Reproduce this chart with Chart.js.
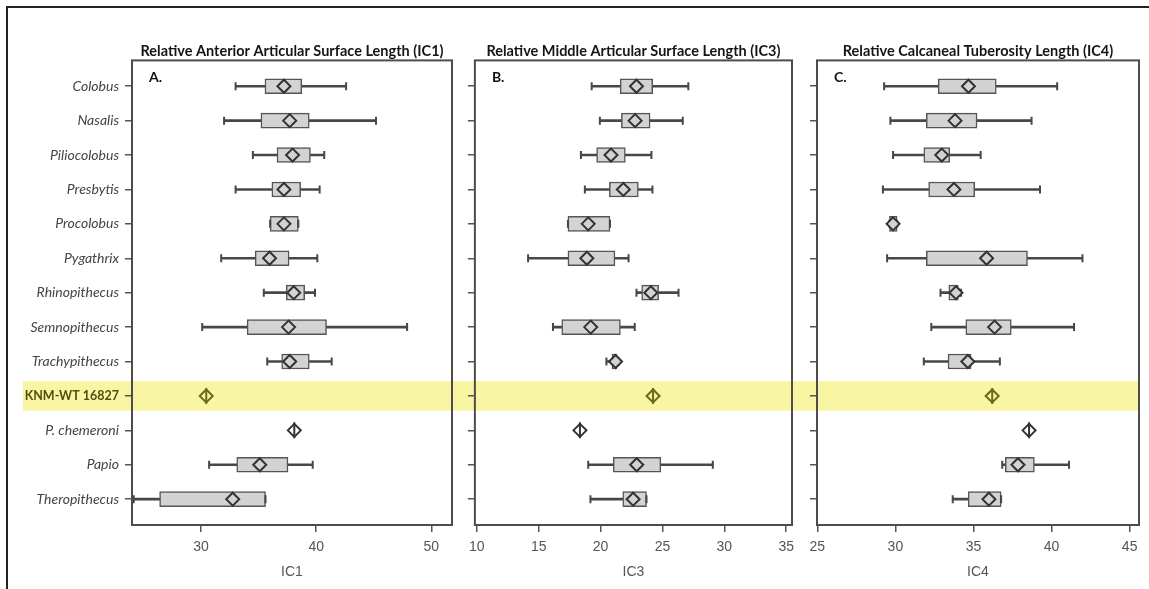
<!DOCTYPE html>
<html>
<head>
<meta charset="utf-8">
<script src="https://cdn.jsdelivr.net/npm/chart.js@4.4.1/dist/chart.umd.min.js"></script>
<style>
  body { margin: 0; background: #fff; }
  #frame { position: absolute; left: 6px; top: 6px; width: 1143px; height: 583px;
           border-left: 2px solid #222; border-top: 2px solid #222; }
  canvas { position: absolute; top: 0; }
</style>
</head>
<body>
<div id="frame"></div>
<canvas id="panelA" width="454" height="589" style="left:8px"></canvas>
<canvas id="panelB" width="340" height="589" style="left:462px"></canvas>
<canvas id="panelC" width="347" height="589" style="left:802px"></canvas>

<script>
// taxa, top to bottom
const species = ['Colobus', 'Nasalis', 'Piliocolobus', 'Presbytis', 'Procolobus', 'Pygathrix',
  'Rhinopithecus', 'Semnopithecus', 'Trachypithecus', 'KNM-WT 16827', 'P. chemeroni', 'Papio', 'Theropithecus'];
const highlightRow = species.indexOf('KNM-WT 16827');

// IC1 - anterior articular surface
const ic1Min  = [33.0, 32.0, 34.5, 33.0, 36.0, 31.75, 35.45, 30.1, 35.75, null, null, 30.7, 24.15];
const ic1Q1   = [35.55, 35.2, 36.6, 36.15, 36.0, 34.7, 37.4, 34.0, 37.0, null, null, 33.1, 26.4];
const ic1Q3   = [38.75, 39.4, 39.5, 38.65, 38.45, 37.65, 39.0, 40.9, 39.4, null, null, 37.55, 35.6];
const ic1Max  = [42.6, 45.2, 40.7, 40.3, 38.45, 40.1, 39.9, 47.9, 41.35, null, null, 39.7, 35.6];
const ic1Mean = [37.2, 37.7, 37.95, 37.2, 37.2, 35.95, 38.05, 37.6, 37.7, 30.45, 38.1, 35.1, 32.75];
const ic1Ticks = [30, 40, 50];

// IC3 - middle articular surface
const ic3Min  = [19.28, 19.94, 18.41, 18.73, 17.36, 14.14, 22.9, 16.15, 20.47, null, null, 19.0, 19.18];
const ic3Q1   = [21.58, 21.68, 19.68, 20.71, 17.36, 17.36, 23.32, 16.86, 20.92, null, null, 21.02, 21.79];
const ic3Q3   = [24.21, 24.0, 22.0, 23.05, 20.76, 21.16, 24.69, 21.6, 21.31, null, null, 24.87, 23.71];
const ic3Max  = [27.09, 26.64, 24.11, 24.19, 20.76, 22.26, 26.3, 22.76, 21.45, null, null, 29.07, 23.71];
const ic3Mean = [22.9, 22.79, 20.84, 21.84, 19.0, 18.89, 24.06, 19.2, 21.21, 24.24, 18.33, 22.92, 22.63];
const ic3Ticks = [10, 15, 20, 25, 30, 35];

// IC4 - calcaneal tuberosity
const ic4Min  = [29.28, 29.68, 29.85, 29.2, 29.62, 29.47, 32.89, 32.3, 31.82, null, null, 36.84, 33.67];
const ic4Q1   = [32.74, 31.98, 31.82, 32.13, 29.62, 31.98, 33.42, 34.51, 33.37, null, null, 37.04, 34.66];
const ic4Q3   = [36.46, 35.23, 33.48, 35.08, 30.11, 38.46, 34.03, 37.42, 34.85, null, null, 38.9, 36.77];
const ic4Max  = [40.36, 38.72, 35.46, 39.26, 30.11, 41.98, 34.2, 41.44, 36.69, null, null, 41.12, 36.77];
const ic4Mean = [34.68, 33.82, 32.97, 33.75, 29.85, 35.84, 33.88, 36.35, 34.64, 36.2, 38.56, 37.85, 35.99];
const ic4Ticks = [25, 30, 35, 40, 45];

const BOX_FILL = '#d3d3d3';
const INK = '#333';
const OLIVE = '#6a6a1c';
const AXIS = '#555';

// yellow band behind the fossil row, frame round the plot area, panel letter
const panelDecor = {
  id: 'panelDecor',
  beforeDraw(chart, args, opts) {
    const { ctx, chartArea, scales: { y } } = chart;
    const a = y.getPixelForValue(highlightRow - 0.43);
    const b = y.getPixelForValue(highlightRow + 0.43);
    const right = opts.bandToArea ? chartArea.right + 1 : chart.width;
    ctx.save();
    ctx.fillStyle = '#f9f6a3';
    ctx.fillRect(opts.bandLeft, Math.min(a, b), right - opts.bandLeft, Math.abs(b - a));
    ctx.restore();
  },
  afterDraw(chart, args, opts) {
    const { ctx, chartArea } = chart;
    ctx.save();
    ctx.strokeStyle = '#4d4d4d';
    ctx.lineWidth = 2;
    ctx.strokeRect(chartArea.left, chartArea.top, chartArea.right - chartArea.left, chartArea.bottom - chartArea.top);
    ctx.fillStyle = '#111';
    ctx.font = 'bold 14px Lato';
    ctx.fillText(opts.letter, chartArea.left + 17, chartArea.top + 22);
    ctx.restore();
  }
};

function buildPanel(id, p) {
  const rows = species.map((_, i) => i);
  const boxRows = rows.filter(i => p.q1[i] !== null);
  const singleRows = rows.filter(i => p.q1[i] === null);

  return new Chart(document.getElementById(id), {
    type: 'bar',
    data: {
      datasets: [
        {
          label: 'range',
          indexAxis: 'y',
          data: boxRows.map(i => ({ y: i, x: [p.min[i], p.max[i]] })),
          barThickness: 2,
          backgroundColor: '#474747',
          borderWidth: 0,
          order: 5
        },
        {
          label: 'quartiles',
          indexAxis: 'y',
          data: boxRows.map(i => ({ y: i, x: [p.q1[i], p.q3[i]] })),
          barThickness: 15,
          backgroundColor: BOX_FILL,
          borderColor: AXIS,
          borderWidth: 1.5,
          borderSkipped: false,
          order: 4
        },
        {
          type: 'scatter',
          label: 'caps',
          data: boxRows.flatMap(i => [{ x: p.min[i], y: i }, { x: p.max[i], y: i }]),
          pointStyle: 'line',
          pointRotation: 90,
          pointRadius: 4,
          pointBorderWidth: 2,
          pointBorderColor: '#474747',
          order: 3
        },
        {
          type: 'scatter',
          label: 'mean',
          data: rows.map(i => ({ x: p.mean[i], y: i })),
          pointStyle: 'rectRot',
          pointRadius: 6.5,
          pointBorderWidth: 2,
          pointBorderColor: rows.map(i => i === highlightRow ? OLIVE : INK),
          pointBackgroundColor: rows.map(i => p.q1[i] === null ? 'rgba(0,0,0,0)' : BOX_FILL),
          order: 2
        },
        {
          type: 'scatter',
          label: 'single',
          data: singleRows.map(i => ({ x: p.mean[i], y: i })),
          pointStyle: 'line',
          pointRotation: 90,
          pointRadius: 8,
          pointBorderWidth: 2,
          pointBorderColor: singleRows.map(i => i === highlightRow ? OLIVE : INK),
          order: 1
        }
      ]
    },
    options: {
      responsive: false,
      animation: false,
      events: [],
      datasets: { bar: { grouped: false } },
      layout: { padding: { left: 0, right: p.padRight, top: 0, bottom: 0 } },
      plugins: {
        legend: { display: false },
        tooltip: { enabled: false },
        title: {
          display: true,
          text: p.title,
          fullSize: false,
          color: '#151515',
          font: { family: 'Lato', weight: 'bold', size: 14.5 },
          padding: { top: 43, bottom: 0 }
        },
        panelDecor: { letter: p.letter, bandLeft: p.bandLeft, bandToArea: p.bandToArea }
      },
      scales: {
        x: {
          type: 'linear',
          offset: false,
          min: p.xMin,
          max: p.xMax,
          afterBuildTicks: s => { s.ticks = p.ticks.map(v => ({ value: v })); },
          afterFit: s => { s.height = 64; },
          border: { display: false },
          grid: { offset: false, drawOnChartArea: false, drawTicks: true, tickLength: 7, color: AXIS, lineWidth: 1.5 },
          ticks: { color: AXIS, padding: 7, font: { family: 'Liberation Sans', size: 14 } },
          title: {
            display: true,
            text: p.axisTitle,
            color: AXIS,
            font: { family: 'Liberation Sans', size: 14 },
            padding: { top: 0, bottom: 8 }
          }
        },
        y: {
          type: 'linear',
          offset: false,
          reverse: true,
          min: -0.75,
          max: 12.75,
          afterBuildTicks: s => { s.ticks = species.map((_, i) => ({ value: i })); },
          afterFit: s => { s.width = p.yWidth; },
          border: { display: false },
          grid: { offset: false, drawOnChartArea: false, drawTicks: true, tickLength: 7, color: AXIS, lineWidth: 1.5 },
          ticks: {
            autoSkip: false,
            padding: 6,
            callback: v => p.showNames ? (species[v] ?? '') : '',
            color: c => c.index === highlightRow ? '#4f4f12' : '#444',
            font: c => c.index === highlightRow
              ? { family: 'Lato', size: 12.5, weight: 'bold' }
              : { family: 'Lato', size: 14, style: 'italic' }
          }
        }
      }
    },
    plugins: [panelDecor]
  });
}

buildPanel('panelA', {
  title: 'Relative Anterior Articular Surface Length (IC1)', letter: 'A.', axisTitle: 'IC1',
  min: ic1Min, q1: ic1Q1, q3: ic1Q3, max: ic1Max, mean: ic1Mean, ticks: ic1Ticks,
  xMin: 24, xMax: 51.8, yWidth: 124, padRight: 3, showNames: true, bandLeft: 15, bandToArea: false
});
buildPanel('panelB', {
  title: 'Relative Middle Articular Surface Length (IC3)', letter: 'B.', axisTitle: 'IC3',
  min: ic3Min, q1: ic3Q1, q3: ic3Q3, max: ic3Max, mean: ic3Mean, ticks: ic3Ticks,
  xMin: 9.84, xMax: 35.47, yWidth: 12, padRight: 4, showNames: false, bandLeft: 0, bandToArea: false
});
buildPanel('panelC', {
  title: 'Relative Calcaneal Tuberosity Length (IC4)', letter: 'C.', axisTitle: 'IC4',
  min: ic4Min, q1: ic4Q1, q3: ic4Q3, max: ic4Max, mean: ic4Mean, ticks: ic4Ticks,
  xMin: 24.98, xMax: 45.6, yWidth: 15, padRight: 10, showNames: false, bandLeft: 0, bandToArea: true
});
</script>
</body>
</html>
